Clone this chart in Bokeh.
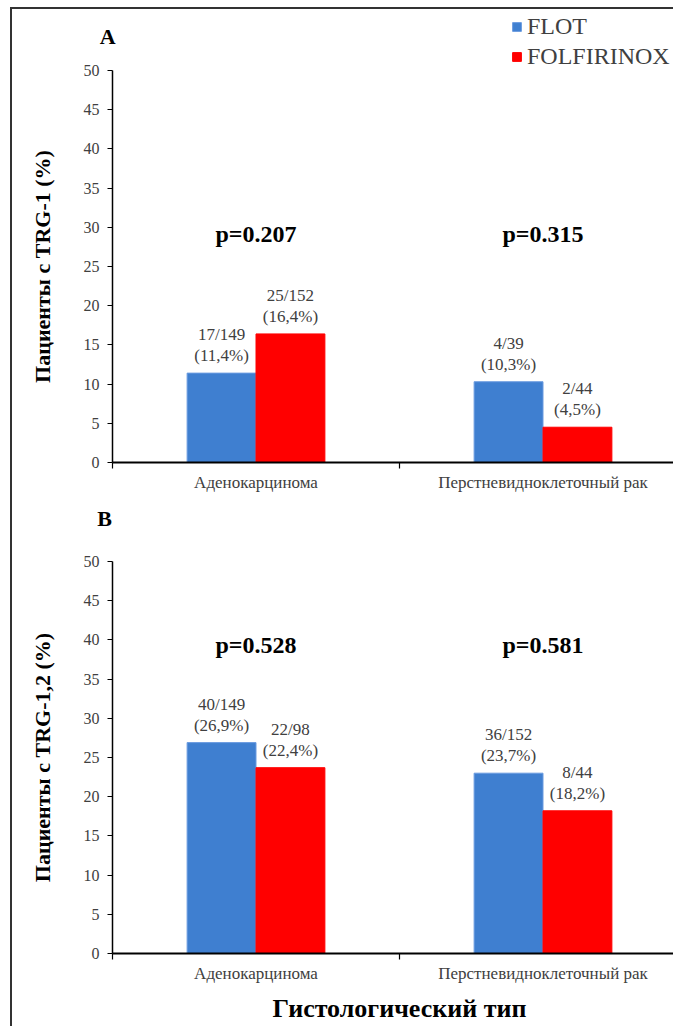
from bokeh.plotting import figure
from bokeh.models import (Range1d, FixedTicker, Label, Legend, LegendItem,
                          ColumnDataSource)
from bokeh.transform import dodge
from bokeh.layouts import column
from bokeh.embed import file_html
from bokeh.resources import INLINE
from bokeh.core.properties import value

# ---------------- data ----------------
categories = ["Аденокарцинома", "Перстневидноклеточный рак"]
series = ["FLOT", "FOLFIRINOX"]
colors = ["#3F7FD0", "#FF0000"]
y_ticks = [0, 5, 10, 15, 20, 25, 30, 35, 40, 45, 50]

a_flot = [11.4, 10.3]
a_folfirinox = [16.4, 4.5]
a_flot_labels = ["17/149\n(11,4%)", "4/39\n(10,3%)"]
a_folfirinox_labels = ["25/152\n(16,4%)", "2/44\n(4,5%)"]
a_pvalues = ["p=0.207", "p=0.315"]

b_flot = [26.9, 23.0]
b_folfirinox = [23.7, 18.2]
b_flot_labels = ["40/149\n(26,9%)", "36/152\n(23,7%)"]
b_folfirinox_labels = ["22/98\n(22,4%)", "8/44\n(18,2%)"]
b_pvalues = ["p=0.528", "p=0.581"]

x_title = "Гистологический тип"

# ---------------- style ----------------
SERIF = "Liberation Serif, serif"
GRAY = "#404040"
PX_PER_UNIT = 7.84     # pixels per percent
CAT_PX = 287.0         # pixels per category
AXIS_OFFSET = 100      # pixels from figure left to the y axis
FIG_W = 661


def make_panel(letter, letter_xy, ytitle, flot, folf, flot_lab, folf_lab,
               pvals, p_y, fig_h, below_zero, with_xtitle=False,
               with_legend=False):
    x_end = (FIG_W - AXIS_OFFSET) / CAT_PX
    p = figure(width=FIG_W, height=fig_h,
               x_range=Range1d(-AXIS_OFFSET / CAT_PX, x_end),
               y_range=Range1d(-below_zero / PX_PER_UNIT,
                               (fig_h - below_zero) / PX_PER_UNIT),
               output_backend="svg", toolbar_location=None,
               min_border_left=0, min_border_right=0,
               min_border_top=0, min_border_bottom=0)
    p.outline_line_color = None
    p.xgrid.visible = False
    p.ygrid.visible = False
    p.background_fill_color = "white"
    p.border_fill_color = "white"

    xs = [i + 0.5 for i in range(len(categories))]
    src = ColumnDataSource(dict(x=xs, flot=flot, folf=folf,
                                flot_lab=flot_lab, folf_lab=folf_lab,
                                pv=pvals, py=[p_y] * len(xs)))

    r1 = p.vbar(x=dodge("x", -0.12, range=p.x_range), top="flot", width=0.24,
                source=src, fill_color=colors[0], line_color="#6A9BE0",
                line_width=1)
    r2 = p.vbar(x=dodge("x", 0.12, range=p.x_range), top="folf", width=0.24,
                source=src, fill_color=colors[1], line_color=colors[1],
                line_width=1)

    for key, off, val in (("flot_lab", -0.12, "flot"), ("folf_lab", 0.12, "folf")):
        p.text(x=dodge("x", off, range=p.x_range), y=val, text=key, source=src,
               text_align="center", text_baseline="bottom", y_offset=-8,
               text_font=value(SERIF), text_font_size="17px",
               text_color=GRAY, text_line_height=1.1)

    p.text(x="x", y="py", text="pv", source=src, text_align="center",
           text_baseline="middle", text_font=value(SERIF),
           text_font_size="24px", text_font_style="bold", text_color="black")

    p.add_layout(Label(x=letter_xy[0], y=letter_xy[1], text=letter,
                       text_align="center", text_baseline="middle",
                       text_font=SERIF, text_font_size="22px",
                       text_font_style="bold", text_color="black"))

    # y axis, fixed at the first category boundary
    ya = p.yaxis[0]
    ya.fixed_location = 0
    ya.ticker = FixedTicker(ticks=y_ticks)
    ya.bounds = (0, 50)
    ya.axis_line_color = "black"
    ya.axis_line_width = 1.5
    ya.major_tick_line_color = "black"
    ya.major_tick_line_width = 1.2
    ya.major_tick_out = 5
    ya.major_tick_in = 0
    ya.minor_tick_line_color = None
    ya.major_label_standoff = 8
    ya.major_label_text_font = SERIF
    ya.major_label_text_font_size = "16px"
    ya.major_label_text_color = GRAY
    ya.axis_label = ytitle
    ya.axis_label_text_font = SERIF
    ya.axis_label_text_font_size = "22px"
    ya.axis_label_text_font_style = "bold"
    ya.axis_label_text_color = "black"
    ya.axis_label_standoff = 26

    # x axis, fixed at zero
    xa = p.xaxis[0]
    xa.fixed_location = 0
    xa.bounds = (0, x_end)
    xa.ticker = FixedTicker(ticks=xs,
                            minor_ticks=list(range(len(categories) + 1)))
    xa.major_label_overrides = {x: c for x, c in zip(xs, categories)}
    xa.axis_line_color = "black"
    xa.axis_line_width = 2
    xa.major_tick_line_color = None
    xa.major_tick_out = 6
    xa.major_tick_in = 0
    xa.minor_tick_line_color = "black"
    xa.minor_tick_line_width = 1.2
    xa.minor_tick_out = 6
    xa.minor_tick_in = 0
    xa.major_label_standoff = 4
    xa.major_label_text_font = SERIF
    xa.major_label_text_font_size = "17px"
    xa.major_label_text_color = GRAY

    if with_xtitle:
        p.add_layout(Label(x=len(categories) / 2, y=-7.0, text=x_title,
                           text_align="center", text_baseline="middle",
                           text_font=SERIF, text_font_size="26px",
                           text_font_style="bold", text_color="black"))

    if with_legend:
        leg = Legend(items=[LegendItem(label=series[0], renderers=[r1]),
                            LegendItem(label=series[1], renderers=[r2])],
                     location=(499, 392 + below_zero), orientation="vertical",
                     glyph_width=11, glyph_height=11, label_height=25,
                     label_standoff=5, spacing=3, padding=0, margin=0,
                     border_line_color=None, background_fill_alpha=0,
                     label_text_font=SERIF, label_text_font_size="24px",
                     label_text_color=GRAY)
        p.add_layout(leg)
    return p


p1 = make_panel("A", (-0.017, 54.3), "Пациенты с TRG-1 (%)",
                a_flot, a_folfirinox, a_flot_labels, a_folfirinox_labels,
                a_pvalues, 29.2, fig_h=496, below_zero=43, with_legend=True)
p2 = make_panel("B", (-0.028, 55.5), "Пациенты с TRG-1,2 (%)",
                b_flot, b_folfirinox, b_flot_labels, b_folfirinox_labels,
                b_pvalues, 39.3, fig_h=521, below_zero=73, with_xtitle=True)

layout = column(p1, p2, spacing=0,
                styles={"margin-left": "10px", "margin-top": "7px",
                        "border-top": "2px solid #333",
                        "border-left": "2px solid #333"})

open("out.html", "w").write(file_html(layout, INLINE))
